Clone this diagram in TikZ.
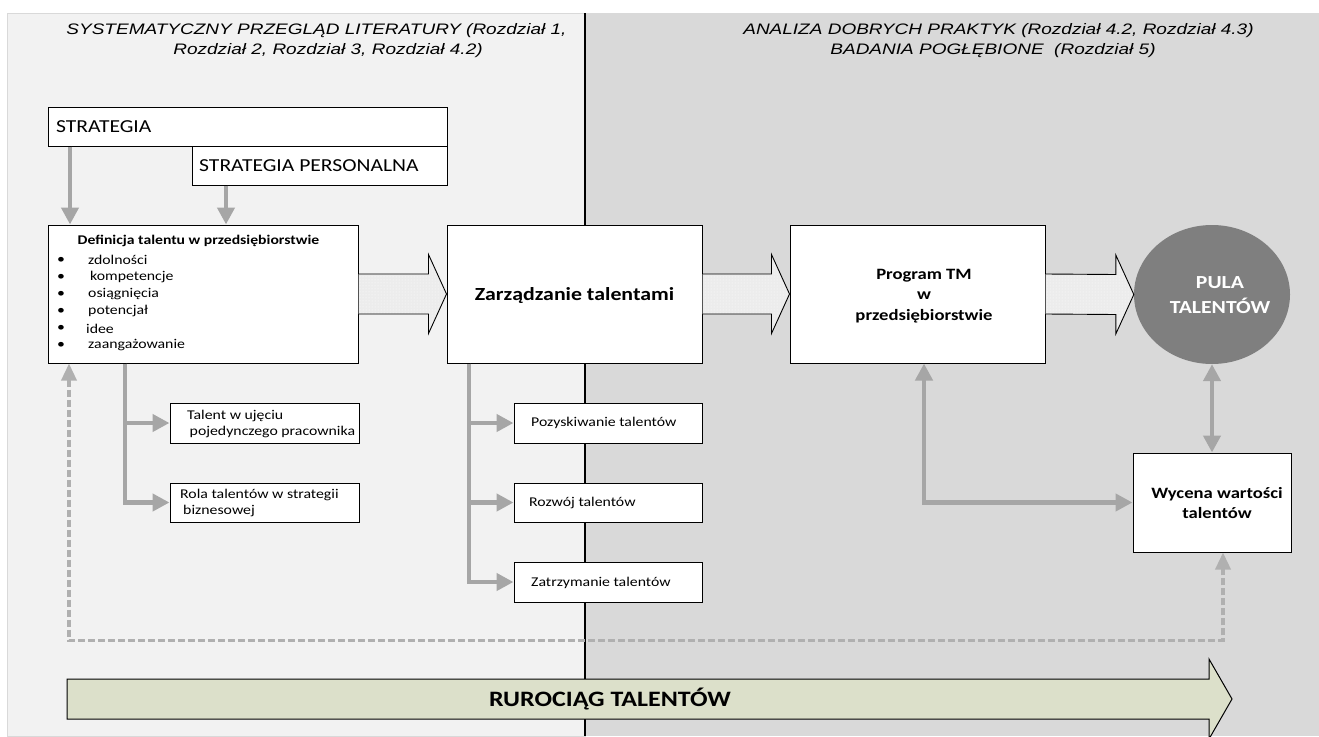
\documentclass[tikz,border=0pt]{standalone}
\usepackage{fontspec}
\setmainfont[FakeStretch=1.18]{Carlito}
\newfontfamily\headfont[FakeStretch=1.25]{Liberation Sans}
\usepackage{tikz}
\usetikzlibrary{shapes,calc,patterns,arrows.meta,positioning}
\usepackage{xcolor}
\definecolor{lbg}{HTML}{F2F2F2}
\definecolor{rbg}{HTML}{D9D9D9}
\definecolor{agray}{HTML}{A6A6A6}
\definecolor{dgray}{HTML}{B0B0B0}
\definecolor{pgray}{HTML}{7F7F7F}
\definecolor{bgray}{HTML}{ECECEC}
\definecolor{pipe}{HTML}{DCE0CA}
\tikzstyle{box}=[draw=black, fill=white, line width=1pt, inner sep=0pt]
\tikzstyle{txt}=[inner sep=0pt, align=left, font=\fontsize{13.4}{15.5}\selectfont]
\tikzstyle{btxt}=[inner sep=0pt, align=center, font=\bfseries\fontsize{15.8}{20.5}\selectfont]
\tikzstyle{head}=[inner sep=0pt, align=center, font=\headfont\itshape\fontsize{15.2}{20}\selectfont]
\tikzstyle{l1}=[line width=4.5pt, color=agray]
\tikzstyle{ga}=[l1, -{Triangle[length=17pt,width=17pt]}]
\tikzstyle{dl}=[line width=3.5pt, color=dgray, dash pattern=on 7pt off 3pt,
  {Triangle[length=17pt,width=15pt]}-{Triangle[length=17pt,width=15pt]}]
\tikzstyle{barrow}=[draw=black, line width=0.9pt, preaction={fill=bgray}, pattern=dots, pattern color=white]
\newcommand{\blockarrow}[2]{%
  \draw[barrow] ($(#1)+(0,-20)$) -- ($(#2)+(-18,-20)$) -- ($(#2)+(-18,-39.5)$) -- (#2)
    -- ($(#2)+(-18,39.5)$) -- ($(#2)+(-18,20)$) -- ($(#1)+(0,20)$);}

\begin{document}
\begin{tikzpicture}[x=1pt,y=-1pt]
    \useasboundingbox (0,0) rectangle (1319,736);
    \fill[white] (0,0) rectangle (1319,736);
    \filldraw[fill=lbg, draw=black!15] (7,13) rectangle (585,736);
    \fill[rbg] (585,13) rectangle (1319,736);
    \draw[line width=1.5pt] (585,13) -- (585,736);

    \node[head] (hl) at (316.5,41) {SYSTEMATYCZNY PRZEGLĄD LITERATURY (Rozdział 1,\\ \hspace*{23pt}Rozdział 2, Rozdział 3, Rozdział 4.2)};
    \node[head] (hr) at (998.5,41) {ANALIZA DOBRYCH PRAKTYK (Rozdział 4.2, Rozdział 4.3)\\BADANIA POGŁĘBIONE \ (Rozdział 5)\hspace*{11pt}};

    % strategia
    \node[box, minimum width=399pt, minimum height=39pt] (strat) at (247.5,126.5) {};
    \node[box, minimum width=255pt, minimum height=39pt] (strper) at (319.5,165.5) {};
    \node[txt, font=\fontsize{18.3}{20}\selectfont, anchor=west] (stratt) at (56,127) {STRATEGIA};
    \node[txt, font=\fontsize{18.3}{20}\selectfont, anchor=west] (strpert) at (199,166) {STRATEGIA PERSONALNA};

    % main boxes
    \node[box, minimum width=310pt, minimum height=138pt] (def) at (203,294) {};
    \node[box, minimum width=255pt, minimum height=138pt] (zarz) at (574.5,294) {};
    \node[box, minimum width=255pt, minimum height=138pt] (prog) at (917.5,294) {};
    \node[ellipse, fill=pgray, minimum width=156pt, minimum height=139pt, inner sep=0pt] (pula) at (1212,294.5) {};
    \node[box, minimum width=158pt, minimum height=99pt] (wyc) at (1212,502.5) {};

    \node[txt, font=\bfseries\fontsize{13.3}{15.5}\selectfont] (deft) at (198.5,241) {Definicja talentu w przedsiębiorstwie};
    \foreach \name/\dx [count=\i from 0] in {zdolności/88, kompetencje/90, osiągnięcia/88, potencjał/88, idee/86, zaangażowanie/88}{
        \node[txt] (b\i) at (61,260+17.1*\i) {\textbullet};
        \node[txt, anchor=west] (it\i) at (\dx,260+17.1*\i) {\name};
    }
    \node[btxt, font=\bfseries\fontsize{18.5}{22}\selectfont] (zarzt) at (574.5,296) {Zarządzanie talentami};
    \node[btxt] (progt) at (924,296) {Program TM\\w\\przedsiębiorstwie};
    \node[btxt, text=white, font=\bfseries\fontsize{18.4}{25}\selectfont] (pulat) at (1220,295) {PULA\\TALENTÓW};
    \node[btxt] (wyct) at (1217,503) {Wycena wartości\\talentów};

    % small boxes
    \node[box, minimum width=189pt, minimum height=40pt] (tal) at (264.5,423) {};
    \node[box, minimum width=189pt, minimum height=39pt] (rola) at (264.5,502.5) {};
    \node[box, minimum width=188pt, minimum height=40pt] (pozy) at (608,423) {};
    \node[box, minimum width=188pt, minimum height=39pt] (rozw) at (608,502.5) {};
    \node[box, minimum width=188pt, minimum height=40pt] (zatrz) at (608,582) {};
    \node[txt, anchor=west] (talt) at (187,424) {Talent w ujęciu\\\hspace{2.5pt}pojedynczego pracownika};
    \node[txt, anchor=west] (rolat) at (180,503) {Rola talentów w strategii\\\hspace{3pt}biznesowej};
    \node[txt, anchor=west] (pozyt) at (531,423) {Pozyskiwanie talentów};
    \node[txt, anchor=west] (rozwt) at (529,503) {Rozwój talentów};
    \node[txt, anchor=west] (zatrzt) at (531,583) {Zatrzymanie talentów};

    % gray arrows
    \draw[ga] ([xshift=22.5pt]strat.south west) -- ([xshift=22.5pt]strat.south west |- def.north);
    \draw[ga] ([xshift=34.5pt]strper.south west) -- ([xshift=34.5pt]strper.south west |- def.north);
    \draw[ga] ([xshift=-78pt]def.south) |- (tal.west);
    \draw[ga] ([xshift=-78pt]def.south) |- (rola.west);
    \foreach \n in {pozy,rozw,zatrz}
        \draw[ga] ([xshift=-105.5pt]zarz.south) |- (\n.west);
    \draw[ga, {Triangle[length=17pt,width=17pt]}-{Triangle[length=17pt,width=17pt]}] ([xshift=6.5pt]prog.south) |- (wyc.west);
    \draw[ga, {Triangle[length=17pt,width=17pt]}-{Triangle[length=17pt,width=17pt]}] (pula.south) -- (wyc.north);
    \draw[dl] ([xshift=-134pt]def.south) -- ++(0,277) -| ([xshift=11pt]wyc.south);

    % block arrows
    \blockarrow{def.east}{zarz.west}
    \blockarrow{zarz.east}{prog.west}
    \blockarrow{prog.east}{pula.west}

    % pipeline
    \coordinate (rs) at (67,699);
    \coordinate (rt) at (1232,699);
    \draw[fill=pipe, line width=1pt] ($(rs)+(0,-20)$) -- ($(rt)+(-23,-20)$) -- ($(rt)+(-23,-40)$) -- (rt)
        -- ($(rt)+(-23,40)$) -- ($(rt)+(-23,20)$) -- ($(rs)+(0,20)$) -- cycle;
    \node[btxt, font=\bfseries\fontsize{22}{26}\selectfont] (ruro) at (610,699) {RUROCIĄG TALENTÓW};
\end{tikzpicture}
\end{document}
